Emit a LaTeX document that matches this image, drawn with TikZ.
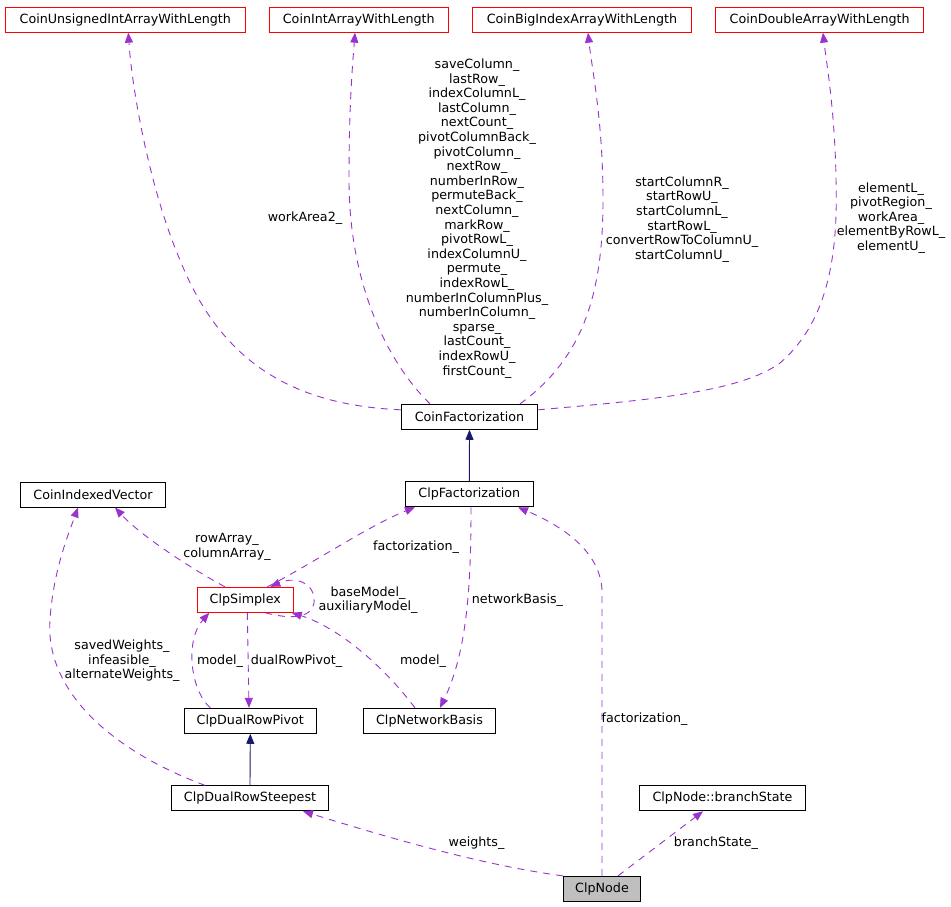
\documentclass[tikz,border=0pt]{standalone}
\usepackage{fontspec}
\setmainfont{DejaVu Sans}
\usetikzlibrary{arrows.meta}
\definecolor{edgepurple}{HTML}{9A32CD}
\definecolor{inhnavy}{HTML}{191970}
\definecolor{boxred}{HTML}{FF0000}
\definecolor{nodegray}{HTML}{BFBFBF}
\begin{document}
\begin{tikzpicture}[x=1pt,y=-1pt,
  every node/.style={font=\fontsize{12.7}{14.6}\selectfont},
  cls/.style={draw=black,line width=0.9pt,inner sep=0pt,minimum height=25pt},
  redcls/.style={cls,draw=boxred},
  member/.style={draw=edgepurple,line width=0.9pt,dash pattern=on 7pt off 6pt,
     -{Triangle[length=10pt,width=8pt,fill=edgepurple]}},
  inherit/.style={draw=inhnavy,line width=0.9pt,
     -{Triangle[length=10pt,width=8pt,fill=inhnavy]}},
  lbl/.style={align=center,inner sep=0pt}
]
\useasboundingbox (0,0) rectangle (951,906);
% classes
\node[redcls,minimum width=240.7pt] (cuia) at (125.3,19.7) {CoinUnsignedIntArrayWithLength};
\node[redcls,minimum width=179.7pt] (cia) at (358.8,19.7) {CoinIntArrayWithLength};
\node[redcls,minimum width=218.7pt] (cbia) at (582,19.7) {CoinBigIndexArrayWithLength};
\node[redcls,minimum width=208pt] (cda) at (819.7,19.7) {CoinDoubleArrayWithLength};
\node[cls,minimum width=136.3pt] (cf) at (469.5,416.8) {CoinFactorization};
\node[cls,minimum width=128pt] (clpf) at (469.3,494.3) {ClpFactorization};
\node[cls,minimum width=145.3pt] (civ) at (93,494.5) {CoinIndexedVector};
\node[redcls,minimum width=96pt] (cs) at (245.3,599.8) {ClpSimplex};
\node[cls,minimum width=132pt] (cdrp) at (250.3,720.8) {ClpDualRowPivot};
\node[cls,minimum width=132.3pt] (cnb) at (429.5,720.8) {ClpNetworkBasis};
\node[cls,minimum width=157.3pt] (cdrs) at (250,798.3) {ClpDualRowSteepest};
\node[cls,minimum width=166.3pt] (cbs) at (722.5,798.3) {ClpNode::branchState};
\node[cls,fill=nodegray,minimum width=77.3pt] (cn) at (602,888.8) {ClpNode};

% inheritance
\draw[inherit] (clpf.north) -- (cf.south);
\draw[inherit] (cdrs.north) -- (cdrp.south);

% members of CoinFactorization
\draw[member] ([yshift=7pt]cf.west) .. controls (290,405) and (220,360) .. (180,260)
   .. controls (150,190) and (132,90) .. ([xshift=3pt]cuia.south);
\draw[member] ([xshift=-39.5pt]cf.north) .. controls (385,360) and (349,280) .. (349,180)
   .. controls (349,100) and (353,60) .. ([xshift=-3.8pt]cia.south);
\draw[member] ([xshift=50.5pt]cf.north) .. controls (580,360) and (603,300) .. (603,200)
   .. controls (603,120) and (592,70) .. ([xshift=6pt]cbia.south);
\draw[member] ([yshift=7pt]cf.east) .. controls (650,400) and (740,392) .. (780,363)
   .. controls (830,320) and (838,250) .. (836,180)
   .. controls (835,110) and (826,60) .. ([xshift=3.3pt]cda.south);

% ClpSimplex members
\draw[member] ([xshift=-20.3pt]cs.north) .. controls (190,568) and (140,535) .. ([xshift=22pt]civ.south);
\draw[member] ([xshift=22pt]cs.north) .. controls (310,565) and (370,525) .. ([xshift=-54.3pt]clpf.south);
\draw[member] ([xshift=20pt]cs.south) .. controls (300,622) and (316,614) .. (314,598)
   .. controls (312,580) and (292,577) .. ([xshift=25pt]cs.north);
\draw[member] ([xshift=2pt]cs.south) -- ([xshift=-1.3pt]cdrp.north);
\draw[member] ([xshift=-40pt]cdrp.north) .. controls (190,690) and (185,640) .. ([xshift=-36pt]cs.south);
\draw[member] ([xshift=-14.5pt]cnb.north) .. controls (385,668) and (340,628) .. ([xshift=-2pt]cs.south east);
\draw[member] ([xshift=1.7pt]clpf.south) .. controls (471,580) and (468,650) .. ([xshift=10.5pt]cnb.north);
\draw[member] ([xshift=-45pt]cdrs.north) .. controls (110,750) and (45,690) .. (50,620)
   .. controls (53,570) and (70,530) .. ([xshift=-15pt]civ.south);

% ClpNode members
\draw[member] (cn.north west) .. controls (480,865) and (380,835) .. ([xshift=53pt]cdrs.south);
\draw[member] ([xshift=16pt]cn.north) -- ([xshift=-19.5pt]cbs.south);
\draw[member] (cn.north) -- (602,590) .. controls (600,550) and (560,525) .. ([xshift=48.7pt]clpf.south);

% labels
\node[lbl] (l1) at (305,218) {workArea2\_};
\node[lbl] (l2) at (477,218.5) {saveColumn\_\\lastRow\_\\indexColumnL\_\\lastColumn\_\\nextCount\_\\pivotColumnBack\_\\pivotColumn\_\\nextRow\_\\numberInRow\_\\permuteBack\_\\nextColumn\_\\markRow\_\\pivotRowL\_\\indexColumnU\_\\permute\_\\indexRowL\_\\numberInColumnPlus\_\\numberInColumn\_\\sparse\_\\lastCount\_\\indexRowU\_\\firstCount\_};
\node[lbl] (l3) at (682,219.5) {startColumnR\_\\startRowU\_\\startColumnL\_\\startRowL\_\\convertRowToColumnU\_\\startColumnU\_};
\node[lbl] (l4) at (891,218) {elementL\_\\pivotRegion\_\\workArea\_\\elementByRowL\_\\elementU\_};
\node[lbl] (l5) at (227,547) {rowArray\_\\columnArray\_};
\node[lbl] (l6) at (416,547) {factorization\_};
\node[lbl] (l7) at (368,600) {baseModel\_\\auxiliaryModel\_};
\node[lbl] (l8) at (122,661) {savedWeights\_\\infeasible\_\\alternateWeights\_};
\node[lbl] (l9) at (220,661) {model\_};
\node[lbl] (l10) at (296.5,661) {dualRowPivot\_};
\node[lbl] (l11) at (423,661) {model\_};
\node[lbl] (l12) at (517.5,600) {networkBasis\_};
\node[lbl] (l13) at (644.5,719) {factorization\_};
\node[lbl] (l14) at (476.5,843) {weights\_};
\node[lbl] (l15) at (716,843) {branchState\_};
\end{tikzpicture}
\end{document}
